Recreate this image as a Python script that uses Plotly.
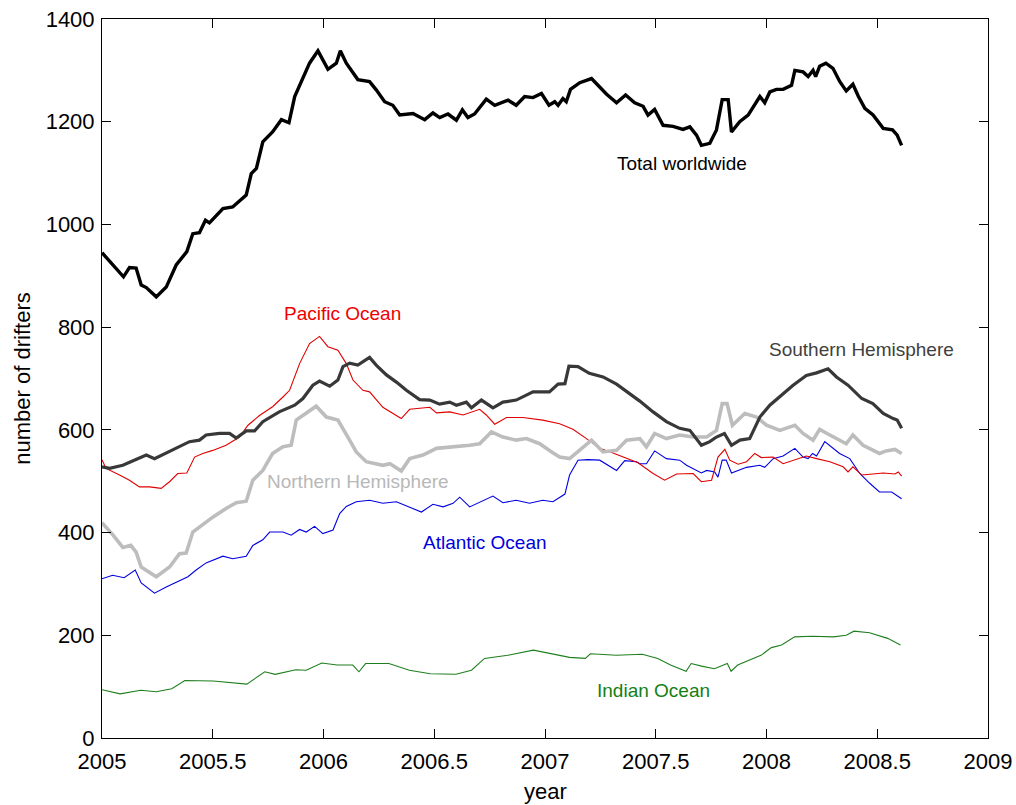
import plotly.graph_objects as go

# Drifter counts by year, (decimal year, number of drifters)
total_worldwide = [
    (2005.0, 945), (2005.097, 898), (2005.124, 916), (2005.154, 915), (2005.177, 882),
    (2005.2, 877), (2005.245, 859), (2005.29, 878), (2005.335, 921), (2005.383, 947),
    (2005.41, 982), (2005.44, 984), (2005.467, 1008), (2005.485, 1003), (2005.546, 1031),
    (2005.59, 1034), (2005.651, 1057), (2005.674, 1099), (2005.697, 1109), (2005.726, 1161),
    (2005.77, 1180), (2005.81, 1204), (2005.844, 1198), (2005.87, 1249), (2005.937, 1314),
    (2005.975, 1338), (2006.02, 1302), (2006.058, 1314), (2006.076, 1338), (2006.103, 1314),
    (2006.155, 1282), (2006.208, 1278), (2006.238, 1262), (2006.276, 1239), (2006.313, 1232),
    (2006.344, 1213), (2006.404, 1216), (2006.457, 1204), (2006.494, 1217), (2006.525, 1208),
    (2006.562, 1215), (2006.6, 1203), (2006.627, 1223), (2006.652, 1208), (2006.682, 1215),
    (2006.735, 1244), (2006.773, 1232), (2006.833, 1242), (2006.87, 1232), (2006.908, 1249),
    (2006.946, 1247), (2006.984, 1255), (2007.018, 1232), (2007.044, 1239), (2007.059, 1232),
    (2007.081, 1245), (2007.096, 1239), (2007.115, 1263), (2007.157, 1276), (2007.21, 1284),
    (2007.277, 1254), (2007.323, 1237), (2007.364, 1252), (2007.405, 1237), (2007.443, 1230),
    (2007.465, 1213), (2007.495, 1224), (2007.533, 1193), (2007.578, 1191), (2007.623, 1185),
    (2007.654, 1190), (2007.684, 1174), (2007.706, 1154), (2007.744, 1158), (2007.774, 1184),
    (2007.8, 1243), (2007.827, 1243), (2007.842, 1180), (2007.879, 1200), (2007.917, 1213),
    (2007.97, 1249), (2007.992, 1237), (2008.015, 1258), (2008.045, 1263), (2008.075, 1263),
    (2008.113, 1271), (2008.128, 1300), (2008.165, 1297), (2008.188, 1288), (2008.21, 1300),
    (2008.222, 1288), (2008.24, 1308), (2008.268, 1314), (2008.3, 1304), (2008.331, 1278),
    (2008.36, 1260), (2008.39, 1273), (2008.414, 1250), (2008.444, 1226), (2008.481, 1213),
    (2008.527, 1187), (2008.569, 1184), (2008.59, 1174), (2008.61, 1154),
]

southern_hemisphere = [
    (2005.0, 528), (2005.034, 525), (2005.094, 531), (2005.13, 538), (2005.2, 551),
    (2005.237, 544), (2005.29, 555), (2005.35, 567), (2005.395, 577), (2005.44, 580),
    (2005.47, 590), (2005.53, 593), (2005.576, 593), (2005.606, 584), (2005.651, 598),
    (2005.689, 598), (2005.726, 616), (2005.8, 635), (2005.87, 648), (2005.907, 661),
    (2005.952, 687), (2005.982, 695), (2006.028, 685), (2006.065, 697), (2006.088, 723),
    (2006.118, 730), (2006.155, 726), (2006.208, 741), (2006.238, 726), (2006.284, 707),
    (2006.329, 693), (2006.374, 677), (2006.434, 659), (2006.48, 658), (2006.524, 650),
    (2006.57, 654), (2006.6, 648), (2006.645, 654), (2006.668, 643), (2006.713, 658),
    (2006.765, 643), (2006.81, 654), (2006.87, 658), (2006.946, 674), (2007.02, 674),
    (2007.059, 689), (2007.09, 690), (2007.108, 724), (2007.149, 723), (2007.2, 710),
    (2007.262, 703), (2007.323, 689), (2007.383, 671), (2007.428, 656), (2007.488, 635),
    (2007.548, 616), (2007.608, 603), (2007.654, 599), (2007.706, 570), (2007.744, 577),
    (2007.774, 586), (2007.81, 593), (2007.842, 570), (2007.88, 580), (2007.924, 583),
    (2007.97, 625), (2008.015, 648), (2008.06, 664), (2008.12, 687), (2008.18, 706),
    (2008.226, 711), (2008.278, 719), (2008.316, 703), (2008.368, 687), (2008.43, 661),
    (2008.48, 651), (2008.527, 632), (2008.572, 622), (2008.59, 619), (2008.61, 603),
]

pacific_ocean = [
    (2005.0, 542), (2005.018, 525), (2005.079, 512), (2005.124, 502), (2005.169, 489),
    (2005.215, 489), (2005.267, 486), (2005.305, 499), (2005.342, 515), (2005.383, 516),
    (2005.418, 547), (2005.455, 554), (2005.5, 560), (2005.56, 570), (2005.621, 586),
    (2005.659, 609), (2005.711, 628), (2005.77, 645), (2005.817, 664), (2005.847, 677),
    (2005.892, 729), (2005.937, 768), (2005.982, 782), (2006.02, 762), (2006.065, 755),
    (2006.103, 729), (2006.133, 697), (2006.178, 677), (2006.208, 674), (2006.268, 644),
    (2006.351, 622), (2006.389, 640), (2006.48, 644), (2006.51, 633), (2006.57, 635),
    (2006.63, 629), (2006.705, 640), (2006.735, 629), (2006.773, 611), (2006.826, 624),
    (2006.9, 624), (2006.99, 619), (2007.066, 612), (2007.126, 601), (2007.187, 583),
    (2007.247, 564), (2007.307, 555), (2007.368, 544), (2007.42, 536), (2007.488, 515),
    (2007.54, 502), (2007.594, 514), (2007.669, 515), (2007.706, 499), (2007.752, 502),
    (2007.781, 547), (2007.812, 562), (2007.834, 541), (2007.872, 533), (2007.91, 538),
    (2007.947, 554), (2007.977, 546), (2008.03, 547), (2008.075, 534), (2008.12, 541),
    (2008.18, 549), (2008.226, 544), (2008.286, 538), (2008.346, 528), (2008.368, 518),
    (2008.39, 528), (2008.43, 512), (2008.48, 514), (2008.527, 516), (2008.58, 514),
    (2008.595, 518), (2008.61, 510),
]

northern_hemisphere = [
    (2005.0, 419), (2005.05, 395), (2005.094, 371), (2005.13, 375), (2005.154, 362),
    (2005.177, 333), (2005.245, 314), (2005.305, 333), (2005.35, 359), (2005.38, 360),
    (2005.41, 401), (2005.44, 411), (2005.5, 430), (2005.56, 447), (2005.606, 458),
    (2005.651, 461), (2005.681, 502), (2005.726, 521), (2005.77, 554), (2005.817, 567),
    (2005.854, 570), (2005.877, 619), (2005.922, 632), (2005.967, 646), (2006.013, 625),
    (2006.065, 619), (2006.11, 586), (2006.148, 557), (2006.193, 538), (2006.268, 531),
    (2006.3, 534), (2006.351, 520), (2006.389, 544), (2006.449, 551), (2006.51, 564),
    (2006.6, 567), (2006.66, 570), (2006.705, 573), (2006.758, 596), (2006.81, 586),
    (2006.87, 580), (2006.916, 583), (2006.976, 573), (2007.03, 557), (2007.066, 547),
    (2007.111, 544), (2007.171, 567), (2007.21, 580), (2007.262, 557), (2007.323, 560),
    (2007.368, 580), (2007.428, 583), (2007.458, 567), (2007.495, 593), (2007.548, 583),
    (2007.608, 590), (2007.669, 586), (2007.73, 586), (2007.774, 599), (2007.8, 651),
    (2007.822, 651), (2007.846, 609), (2007.902, 632), (2007.955, 625), (2008.0, 609),
    (2008.06, 599), (2008.128, 609), (2008.165, 593), (2008.21, 580), (2008.24, 601),
    (2008.286, 590), (2008.33, 580), (2008.36, 573), (2008.39, 590), (2008.436, 570),
    (2008.51, 554), (2008.54, 559), (2008.58, 562), (2008.61, 554),
]

atlantic_ocean = [
    (2005.0, 310), (2005.048, 317), (2005.1, 312), (2005.15, 327), (2005.177, 302),
    (2005.237, 282), (2005.29, 294), (2005.35, 307), (2005.388, 314), (2005.425, 327),
    (2005.47, 341), (2005.546, 354), (2005.59, 349), (2005.651, 354), (2005.681, 375),
    (2005.726, 386), (2005.757, 401), (2005.817, 401), (2005.854, 395), (2005.892, 406),
    (2005.922, 401), (2005.96, 412), (2005.997, 398), (2006.043, 405), (2006.073, 437),
    (2006.103, 451), (2006.148, 460), (2006.208, 463), (2006.268, 457), (2006.329, 460),
    (2006.389, 449), (2006.442, 440), (2006.494, 455), (2006.54, 450), (2006.585, 457),
    (2006.615, 469), (2006.66, 450), (2006.72, 462), (2006.765, 471), (2006.81, 458),
    (2006.87, 463), (2006.93, 457), (2006.99, 463), (2007.036, 460), (2007.09, 475),
    (2007.111, 512), (2007.149, 541), (2007.194, 542), (2007.247, 541), (2007.323, 521),
    (2007.36, 540), (2007.413, 538), (2007.428, 534), (2007.458, 534), (2007.495, 559),
    (2007.548, 544), (2007.608, 541), (2007.639, 531), (2007.706, 516), (2007.73, 521),
    (2007.766, 518), (2007.781, 508), (2007.8, 541), (2007.818, 541), (2007.842, 516),
    (2007.91, 527), (2007.97, 531), (2007.992, 527), (2008.03, 544), (2008.075, 549),
    (2008.128, 564), (2008.165, 547), (2008.188, 544), (2008.208, 554), (2008.226, 549),
    (2008.263, 577), (2008.33, 554), (2008.376, 544), (2008.421, 515), (2008.466, 496),
    (2008.51, 479), (2008.565, 479), (2008.61, 466),
]

indian_ocean = [
    (2005.0, 94), (2005.082, 86), (2005.175, 93), (2005.245, 90), (2005.315, 96),
    (2005.374, 112), (2005.502, 111), (2005.654, 105), (2005.735, 129), (2005.782, 124),
    (2005.875, 133), (2005.922, 132), (2005.992, 146), (2006.062, 142), (2006.132, 142),
    (2006.16, 129), (2006.19, 145), (2006.295, 145), (2006.388, 132), (2006.482, 125),
    (2006.598, 124), (2006.668, 132), (2006.727, 155), (2006.832, 161), (2006.948, 171),
    (2007.042, 163), (2007.111, 157), (2007.182, 155), (2007.205, 164), (2007.322, 161),
    (2007.439, 163), (2007.509, 155), (2007.567, 142), (2007.637, 130), (2007.66, 145),
    (2007.707, 140), (2007.765, 135), (2007.823, 145), (2007.84, 130), (2007.87, 142),
    (2007.917, 150), (2007.975, 161), (2008.022, 176), (2008.068, 181), (2008.127, 197),
    (2008.208, 198), (2008.302, 197), (2008.36, 200), (2008.395, 208), (2008.465, 205),
    (2008.547, 194), (2008.605, 181),
]

x_tick_values = [2005, 2005.5, 2006, 2006.5, 2007, 2007.5, 2008, 2008.5, 2009]
x_tick_labels = ["2005", "2005.5", "2006", "2006.5", "2007", "2007.5", "2008", "2008.5", "2009"]
y_tick_values = [0, 200, 400, 600, 800, 1000, 1200, 1400]

# name, data, colour, width, label position (year, value)
series = [
    ("Indian Ocean", indian_ocean, "#1f7f1f", 1.1, (2007.49, 92)),
    ("Atlantic Ocean", atlantic_ocean, "#0000e0", 1.1, (2006.73, 381)),
    ("Pacific Ocean", pacific_ocean, "#e00000", 1.1, (2006.086, 827)),
    ("Northern Hemisphere", northern_hemisphere, "#bdbdbd", 3.6, (2006.155, 499)),
    ("Southern Hemisphere", southern_hemisphere, "#383838", 3.2, (2008.43, 757)),
    ("Total worldwide", total_worldwide, "#000000", 3.4, (2007.62, 1119)),
]

FONT = "Liberation Sans, Arial, Helvetica, sans-serif"

fig = go.Figure()
for name, data, color, width, _ in series:
    fig.add_trace(go.Scatter(
        x=[p[0] for p in data],
        y=[p[1] for p in data],
        mode="lines",
        name=name,
        line=dict(color=color, width=width),
        showlegend=False,
    ))

label_colors = {
    "Indian Ocean": "#138013",
    "Atlantic Ocean": "#0000dd",
    "Pacific Ocean": "#ee0000",
    "Northern Hemisphere": "#b8b8b8",
    "Southern Hemisphere": "#404040",
    "Total worldwide": "#000000",
}
for name, _, _, _, (lx, ly) in series:
    fig.add_annotation(
        x=lx, y=ly, text=name, showarrow=False,
        xanchor="center", yanchor="middle",
        font=dict(family=FONT, size=19, color=label_colors[name]),
    )

# x-axis title placed below the tick labels
fig.add_annotation(
    x=0.5, y=-0.075, xref="paper", yref="paper", text="year", showarrow=False,
    xanchor="center", yanchor="middle",
    font=dict(family=FONT, size=22, color="black"),
)

axis_common = dict(
    showline=True, linecolor="black", linewidth=1, mirror="ticks",
    ticks="inside", ticklen=9, tickwidth=1, tickcolor="black",
    showgrid=False, zeroline=False,
    tickfont=dict(family=FONT, size=22, color="black"),
    title_font=dict(family=FONT, size=22, color="black"),
)

fig.update_xaxes(
    range=[2005, 2009], tickvals=x_tick_values, ticktext=x_tick_labels,
    ticklabelstandoff=4, automargin=False, **axis_common,
)
fig.update_yaxes(
    range=[0, 1400], tickvals=y_tick_values,
    title_text="number of drifters", title_standoff=8, ticklabelstandoff=2,
    automargin=False, **axis_common,
)

fig.update_layout(
    width=1016, height=805,
    margin=dict(l=102, r=28, t=19, b=67),
    paper_bgcolor="white", plot_bgcolor="white",
    font=dict(family=FONT),
)

fig.write_html("out.html")
